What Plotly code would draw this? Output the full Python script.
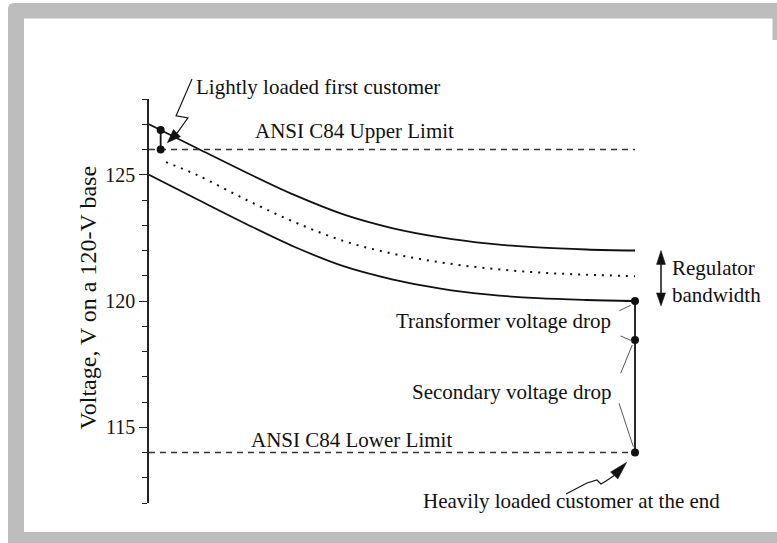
import plotly.graph_objects as go

# ---------------- data ----------------
distance = [0.0, 0.1, 0.2, 0.3, 0.4, 0.5, 0.6, 0.7, 0.8, 0.9, 1.0]
upper_voltage = [127.00, 126.04, 125.09, 124.19, 123.43, 122.89, 122.52, 122.27, 122.12, 122.04, 122.00]
lower_voltage = [125.00, 124.02, 123.05, 122.14, 121.38, 120.86, 120.49, 120.25, 120.11, 120.04, 120.00]
mid_distance = [0.035, 0.1, 0.2, 0.3, 0.4, 0.5, 0.6, 0.7, 0.8, 0.9, 1.0]
mid_voltage = [125.50, 124.98, 124.01, 123.12, 122.38, 121.88, 121.53, 121.29, 121.13, 121.04, 120.98]

limit_span = [0.0, 1.0]
ansi_upper = 126.0
ansi_lower = 114.0

first_customer_x = [0.024, 0.024]
first_customer_v = [126.77, 126.0]
end_customer_x = [1.0, 1.0, 1.0]
end_customer_v = [120.0, 118.46, 114.0]

y_tick_vals = [115, 120, 125]
y_tick_text = ["115", "120", "125"]
y_minor_ticks = [112, 113, 114, 115, 116, 117, 118, 119, 120, 121, 122, 123, 124, 125, 126, 127, 128]

# ---------------- layout geometry ----------------
W, H = 777, 543
L, R, T, B = 149, 0, 99, 40
PW, PH = W - L - R, H - T - B
X_SCALE = 486.0                      # px per distance unit
X_RANGE = [0.0, PW / X_SCALE]
Y_RANGE = [112.0, 128.0]

INK = "#111111"
SERIF = "Liberation Serif, Times New Roman, serif"
FRAME = "#bdbdbd"


def to_px(x, v):
    return L + x * X_SCALE, T + (Y_RANGE[1] - v) * PH / (Y_RANGE[1] - Y_RANGE[0])


def px_to_paper(px, py):
    return (px - L) / PW, (H - B - py) / PH


def paper(x, v):
    return px_to_paper(*to_px(x, v))


fig = go.Figure()

# curves
fig.add_trace(go.Scatter(x=distance, y=upper_voltage, mode="lines",
                         line=dict(color=INK, width=1.8, shape="spline")))
fig.add_trace(go.Scatter(x=mid_distance, y=mid_voltage, mode="lines",
                         line=dict(color=INK, width=2, shape="spline", dash="2px,6px")))
fig.add_trace(go.Scatter(x=distance, y=lower_voltage, mode="lines",
                         line=dict(color=INK, width=1.8, shape="spline")))
# ANSI limits
for lv in (ansi_upper, ansi_lower):
    fig.add_trace(go.Scatter(x=limit_span, y=[lv, lv], mode="lines",
                             line=dict(color="#333333", width=1.3, dash="6px,5px")))
# customer segments + dots
fig.add_trace(go.Scatter(x=first_customer_x, y=first_customer_v, mode="lines+markers",
                         line=dict(color=INK, width=1.8), marker=dict(size=8, color=INK),
                         cliponaxis=False))
fig.add_trace(go.Scatter(x=end_customer_x, y=end_customer_v, mode="lines+markers",
                         line=dict(color=INK, width=1.8), marker=dict(size=8, color=INK),
                         cliponaxis=False))

shapes = []


def seg_path(points):
    pts = [paper(x, v) for x, v in points]
    return "M " + " L ".join(f"{a:.5f},{b:.5f}" for a, b in pts)


def head_path(tip, base, half_w):
    tx, ty = to_px(*tip)
    bx, by = to_px(*base)
    dx, dy = tx - bx, ty - by
    n = (dx * dx + dy * dy) ** 0.5
    nx, ny = -dy / n * half_w, dx / n * half_w
    pts = [(tx, ty), (bx + nx, by + ny), (bx - nx, by - ny)]
    pp = [px_to_paper(a, b) for a, b in pts]
    return "M " + " L ".join(f"{a:.5f},{b:.5f}" for a, b in pp) + " Z"


def add_line(points, width=0.9, color="#444444"):
    shapes.append(dict(type="path", xref="paper", yref="paper", path=seg_path(points),
                       line=dict(color=color, width=width)))


def add_head(tip, base, half_w=5):
    shapes.append(dict(type="path", xref="paper", yref="paper", path=head_path(tip, base, half_w),
                       line=dict(color=INK, width=0.5), fillcolor=INK))


# leader lines
add_line([(0.9677, 119.616), (0.9912, 119.830)])
add_line([(0.9706, 118.614), (0.9944, 118.416)])
add_line([(0.9706, 117.137), (0.9944, 118.257)])
add_line([(0.9671, 115.949), (0.9965, 114.230)])

# lightly loaded squiggle + head
add_line([(0.0885, 128.79), (0.0556, 127.33), (0.0802, 127.25), (0.0576, 126.65)], width=1.1, color=INK)
add_head((0.0377, 126.27), (0.0576, 126.65), 5)

# heavily loaded squiggle + head
add_line([(0.8580, 112.356), (0.9012, 112.792), (0.9218, 112.911), (0.9300, 112.752),
          (0.9403, 112.871), (0.9572, 113.089)], width=1.1, color=INK)
add_head((0.9829, 113.612), (0.9572, 113.089), 5)

# regulator bandwidth double arrow
add_line([(1.0535, 121.47), (1.0535, 120.30)], width=1.5, color=INK)
add_head((1.0535, 122.0), (1.0535, 121.45), 4.5)
add_head((1.0535, 119.8), (1.0535, 120.32), 4.5)


# frame
def rect_px(x0, y0, x1, y1):
    a = px_to_paper(x0, y0)
    b = px_to_paper(x1, y1)
    shapes.append(dict(type="rect", xref="paper", yref="paper", x0=a[0], y0=b[1], x1=b[0], y1=a[1],
                       line=dict(width=0), fillcolor=FRAME, layer="above"))


def path_px(pts_cmds):
    shapes.append(dict(type="path", xref="paper", yref="paper", path=pts_cmds,
                       line=dict(width=0), fillcolor=FRAME, layer="above"))


def pp(px, py):
    a, b = px_to_paper(px, py)
    return f"{a:.5f},{b:.5f}"


path_px(f"M {pp(8,543)} L {pp(8,9)} Q {pp(8,3)} {pp(14,3)} L {pp(777,3)} L {pp(777,18.5)} "
        f"L {pp(24,18.5)} L {pp(24,532)} L {pp(777,532)} L {pp(777,543)} Z")
rect_px(772.5, 18, 777, 40)

# text
annotations = []


def text(s, x, v, xanchor="left", size=21, angle=0):
    px, py = paper(x, v)
    annotations.append(dict(text=s, x=px, y=py, xref="paper", yref="paper", showarrow=False,
                            xanchor=xanchor, yanchor="middle", textangle=angle,
                            font=dict(family=SERIF, size=size, color=INK)))


text("Lightly loaded first customer", 0.0925, 128.48)
text("ANSI C84 Upper Limit", 0.213, 126.72)
text("ANSI C84 Lower Limit", 0.2064, 114.50)
text("Regulator", 1.071, 121.32)
text("bandwidth", 1.071, 120.23)
text("Transformer voltage drop", 0.9554, 119.20, xanchor="right")
text("Secondary voltage drop", 0.9554, 116.38, xanchor="right")
text("Heavily loaded customer at the end", 0.559, 112.06)
text("Voltage, V on a 120-V base", -0.1255, 120.14, xanchor="center", size=24, angle=-90)

fig.update_layout(
    width=W, height=H, autosize=False,
    margin=dict(l=L, r=R, t=T, b=B, pad=0),
    paper_bgcolor="white", plot_bgcolor="white",
    showlegend=False,
    font=dict(family=SERIF, color=INK),
    shapes=shapes, annotations=annotations,
    xaxis=dict(range=X_RANGE, visible=False, fixedrange=True),
    yaxis=dict(range=Y_RANGE, showgrid=False, zeroline=False, showline=True,
               linecolor="#222222", linewidth=1.5, ticks="outside", ticklen=8, tickwidth=1.3,
               tickcolor="#222222", tickmode="array", tickvals=y_tick_vals, ticktext=y_tick_text,
               tickfont=dict(family=SERIF, size=20, color=INK), fixedrange=True,
               minor=dict(ticks="outside", ticklen=5, tickwidth=1.2, tickcolor="#222222",
                          tickmode="array", tickvals=y_minor_ticks, showgrid=False)),
)

fig.write_html("out.html", config={"displayModeBar": False},
               post_script="document.body.style.margin='0';")
